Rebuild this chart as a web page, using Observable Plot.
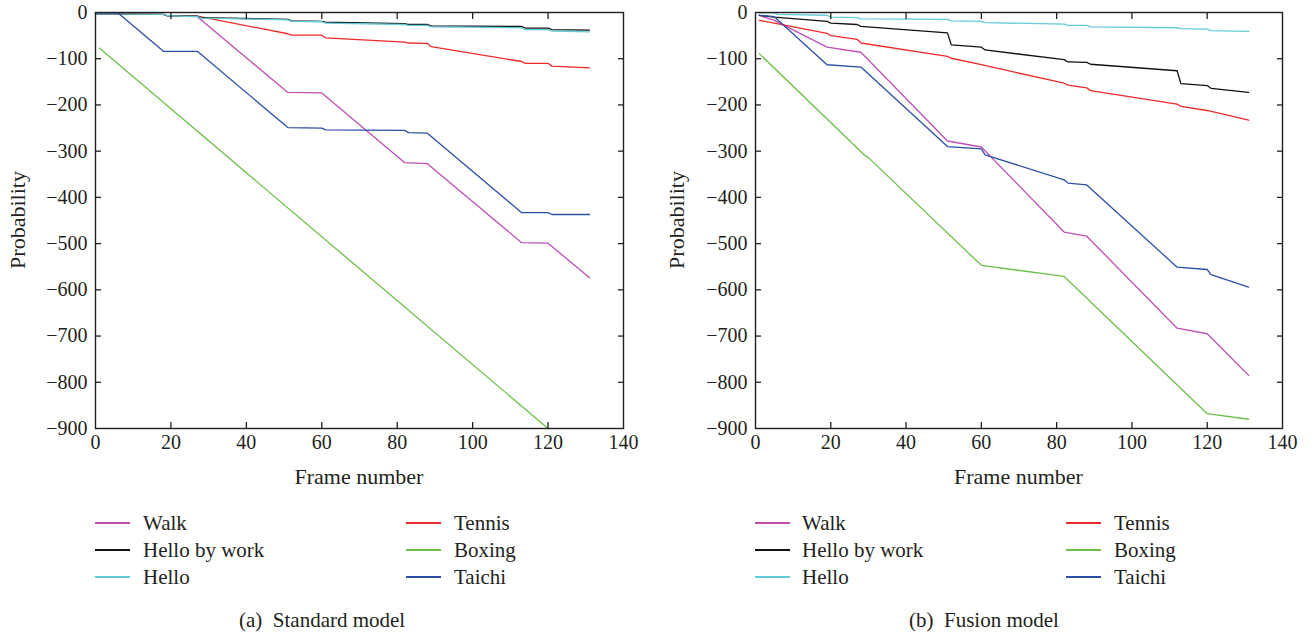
<!DOCTYPE html>
<html>
<head>
<meta charset="utf-8">
<script src="https://cdn.jsdelivr.net/npm/d3@7"></script>
<script src="https://cdn.jsdelivr.net/npm/@observablehq/plot@0.6"></script>
<style>
  html, body { margin: 0; padding: 0; background: #fff; }
  #root { position: relative; width: 1315px; height: 635px; overflow: hidden; font-family: "Liberation Serif", "Times New Roman", serif; color: #231f20; }
  .abs { position: absolute; white-space: pre; font-size: 21px; line-height: 20px; }
  .swatch { position: absolute; height: 0; border-top: 2px solid; }
  .panel { position: absolute; top: 0; }
</style>
</head>
<body>
<div id="root"></div>
<script>
// ---------- data ----------
const seriesNames = ["Walk", "Tennis", "Hello by work", "Boxing", "Hello", "Taichi"];
const seriesColors = ["#bf4fb5", "#ee2a2a", "#111111", "#6cc04a", "#62cbd8", "#2c4ea5"];
const xTickValues = [0, 20, 40, 60, 80, 100, 120, 140];
const yTickValues = [0, -100, -200, -300, -400, -500, -600, -700, -800, -900];
const xLabel = "Frame number";
const yLabel = "Probability";
const captions = ["(a)  Standard model", "(b)  Fusion model"];

// (a) Standard model: [frame, probability]
const stdWalk = [[1,-2],[18,-4],[19,-7],[27,-9],[51,-173],[60,-174],[82,-325],[88,-327],[113,-498],[120,-499],[131,-574]];
const stdTennis = [[0,-3],[18,-4],[19,-7],[27,-8],[51,-46],[52,-49],[60,-49],[61,-55],[82,-64],[83,-66],[88,-67],[89,-74],[113,-106],[114,-110],[120,-110],[121,-116],[131,-120]];
const stdHelloByWork = [[0,-3],[18,-4],[19,-7],[27,-8],[28,-11],[51,-15],[52,-18],[60,-19],[61,-21],[82,-24],[83,-26],[88,-26],[89,-29],[113,-30],[114,-34],[120,-34],[121,-37],[131,-38]];
const stdBoxing = [[1,-77],[120,-900]];
const stdHello = [[0,-3],[18,-4],[19,-7],[27,-9],[28,-12],[51,-16],[52,-19],[60,-20],[61,-23],[82,-26],[83,-28],[88,-28],[89,-31],[113,-33],[114,-37],[120,-37],[121,-40],[131,-42]];
const stdTaichi = [[0,-1],[6,-1],[18,-84],[27,-84],[51,-249],[60,-250],[61,-254],[82,-255],[83,-260],[88,-261],[113,-433],[120,-433],[121,-437],[131,-437]];

// (b) Fusion model
const fusWalk = [[1,-6],[5,-17],[19,-75],[28,-86],[51,-278],[60,-291],[82,-475],[88,-484],[112,-683],[120,-695],[131,-785]];
const fusTennis = [[1,-17],[5,-23],[19,-45],[20,-50],[27,-58],[28,-66],[51,-95],[52,-99],[60,-113],[82,-153],[83,-157],[88,-163],[89,-169],[112,-198],[113,-203],[120,-212],[131,-233]];
const fusHelloByWork = [[1,-6],[5,-10],[19,-19],[20,-23],[27,-26],[28,-30],[51,-44],[52,-70],[60,-75],[61,-81],[82,-102],[83,-107],[88,-108],[89,-112],[112,-126],[113,-154],[120,-158],[121,-164],[131,-173]];
const fusBoxing = [[1,-89],[29,-309],[30,-314],[60,-547],[82,-571],[120,-868],[131,-880]];
const fusHello = [[1,-1],[5,-1],[6,-4],[19,-6],[20,-10],[27,-11],[28,-14],[51,-15],[52,-18],[60,-19],[61,-22],[82,-25],[83,-28],[88,-28],[89,-31],[112,-33],[113,-35],[120,-36],[121,-39],[131,-41]];
const fusTaichi = [[1,-6],[5,-9],[19,-113],[28,-118],[51,-290],[60,-295],[61,-308],[82,-362],[83,-369],[88,-373],[112,-551],[120,-556],[121,-567],[131,-594]];

const standardSeries = [stdWalk, stdTennis, stdHelloByWork, stdBoxing, stdHello, stdTaichi];
const fusionSeries = [fusWalk, fusTennis, fusHelloByWork, fusBoxing, fusHello, fusTaichi];

// ---------- helpers ----------
const root = document.getElementById("root");
const fmt = d => d < 0 ? "\u2212" + Math.abs(d) : String(d);
const xInner = xTickValues.slice(1, -1);
const yInner = yTickValues.slice(1, -1);

function toRows(list) {
  const rows = [];
  list.forEach((pts, i) => pts.forEach(([f, v]) => rows.push({series: seriesNames[i], frame: f, value: v})));
  return rows;
}

function makePlot(list, width, marginLeft, marginRight) {
  return Plot.plot({
    width, height: 500,
    marginLeft, marginRight, marginTop: 12, marginBottom: 72,
    x: {domain: [0, 140]},
    y: {domain: [-900, 0]},
    color: {domain: seriesNames, range: seriesColors},
    style: {fontFamily: "Liberation Serif, Times New Roman, serif", fontSize: "20px", color: "#231f20", background: "transparent", overflow: "visible"},
    marks: [
      Plot.line(toRows(list), {x: "frame", y: "value", z: "series", stroke: "series", strokeWidth: 1.3}),
      Plot.frame({stroke: "#231f20", strokeWidth: 1.4}),
      Plot.axisX(xTickValues, {anchor: "bottom", tickSize: 0, tickPadding: 6, tickFormat: fmt, label: null}),
      Plot.axisY(yTickValues, {anchor: "left", tickSize: 0, tickPadding: 8, tickFormat: fmt, label: null}),
      Plot.axisX(xInner, {anchor: "bottom", tickSize: -6, fill: "none", label: null, strokeWidth: 1.3}),
      Plot.axisX(xInner, {anchor: "top", tickSize: -6, fill: "none", label: null, strokeWidth: 1.3}),
      Plot.axisY(yInner, {anchor: "left", tickSize: -6, fill: "none", label: null, strokeWidth: 1.3}),
      Plot.axisY(yInner, {anchor: "right", tickSize: -6, fill: "none", label: null, strokeWidth: 1.3})
    ]
  });
}

function addText(text, x, y, anchor, rotate, size) {
  const d = document.createElement("div");
  d.className = "abs";
  if (size) d.style.fontSize = size + "px";
  d.textContent = text;
  root.appendChild(d);
  const w = d.offsetWidth;
  let left = x;
  if (anchor === "middle") left = x - w / 2;
  d.style.left = left + "px";
  d.style.top = (y - 10) + "px";
  if (rotate) { d.style.transformOrigin = "center center"; d.style.transform = "rotate(-90deg)"; }
  return d;
}

function addPanel(list, left, width, marginLeft, marginRight, legendCols, caption, captionX, ylabelX) {
  const wrap = document.createElement("div");
  wrap.className = "panel";
  wrap.style.left = left + "px";
  wrap.appendChild(makePlot(list, width, marginLeft, marginRight));
  root.appendChild(wrap);
  const x0 = left + marginLeft, x1 = left + width - marginRight;
  addText(xLabel, (x0 + x1) / 2, 477, "middle", false, 22);
  addText(yLabel, ylabelX, 220, "middle", true, 22);
  // legend: two columns, three rows
  const rowsY = [523, 550, 577];
  seriesNames.forEach((name, i) => {
    const col = i % 2, row = Math.floor(i / 2);
    const [lx, tx] = legendCols[col];
    const s = document.createElement("div");
    s.className = "swatch";
    s.style.left = lx + "px";
    s.style.width = "35px";
    s.style.top = (rowsY[row] - 1) + "px";
    s.style.borderColor = seriesColors[i];
    root.appendChild(s);
    addText(name, tx, rowsY[row], "start");
  });
  addText(caption, captionX, 620, "middle", false, 21);
}

addPanel(standardSeries, 0, 655, 95, 32, [[95, 143], [406, 454]], captions[0], 322, 18);
addPanel(fusionSeries, 655, 660, 100, 33, [[755, 802], [1066, 1114]], captions[1], 984, 677);
</script>
</body>
</html>
